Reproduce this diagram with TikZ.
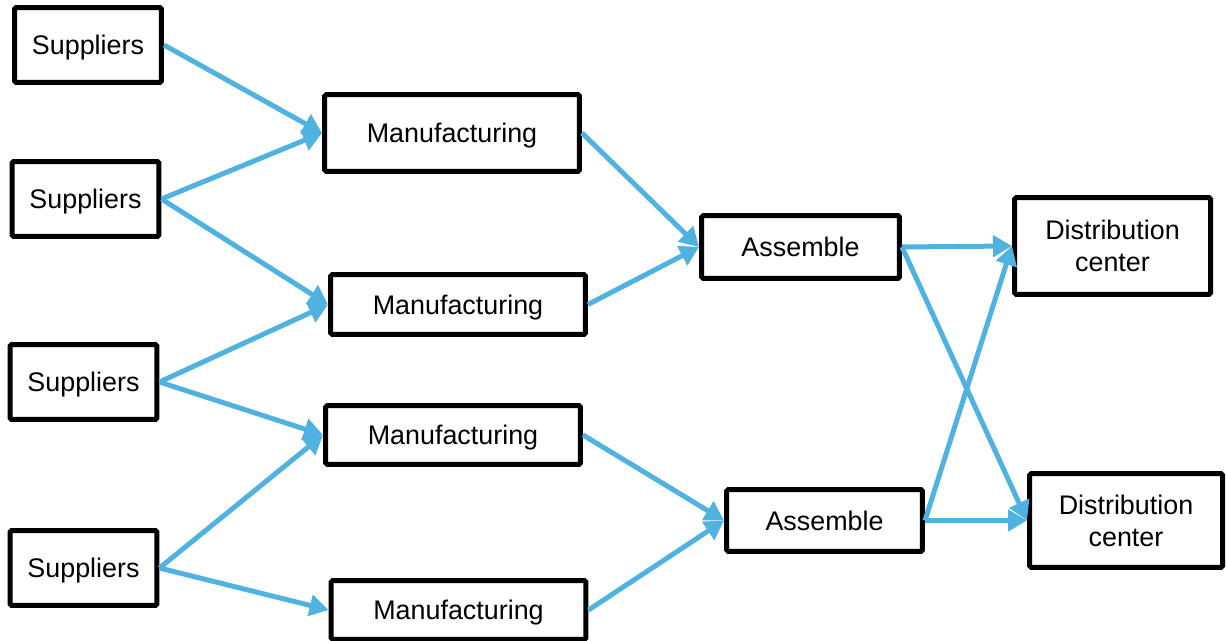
\documentclass[tikz,border=0pt]{standalone}
\usepackage{fontspec}
\setmainfont{Liberation Sans}
\usetikzlibrary{arrows.meta}
\definecolor{flow}{RGB}{80,178,224}
\tikzset{bx/.append style={draw,line width=0.1cm,rounded corners=1pt,inner sep=0pt,align=center,text depth=0pt,font=\fontsize{15.3}{18}\selectfont}}
\tikzset{sp/.append style={bx,minimum width=2.94cm,minimum height=1.5cm}}
\tikzset{ar/.append style={draw=flow,line width=0.1cm,-{Triangle[length=0.38cm,width=0.42cm]}}}

\begin{document}
\begin{tikzpicture}[x=0.02cm,y=-0.02cm]
                \useasboundingbox (0,0) rectangle (1226,641);
                % suppliers
                \node[sp] (s1) at (88,45) {Suppliers};
                \node[sp] (s2) at (85.5,199) {Suppliers};
                \node[sp] (s3) at (83.5,382) {Suppliers};
                \node[sp] (s4) at (83.5,568) {Suppliers};
                % manufacturing
                \node[bx,minimum width=5.1cm,minimum height=1.54cm] (m1) at (452,133) {Manufacturing};
                \node[bx,minimum width=5.1cm,minimum height=1.2cm] (m2) at (458,304.5) {Manufacturing};
                \node[bx,minimum width=5.1cm,minimum height=1.18cm] (m3) at (453,435) {Manufacturing};
                \node[bx,minimum width=5.1cm,minimum height=1.18cm] (m4) at (458.5,610) {Manufacturing};
                % assemble
                \node[bx,minimum width=3.96cm,minimum height=1.26cm] (a1) at (800.5,247) {Assemble};
                \node[bx,minimum width=3.92cm,minimum height=1.24cm] (a2) at (824.5,520.5) {Assemble};
                % distribution
                \node[bx,minimum width=3.92cm,minimum height=1.94cm] (d1) at (1112.5,246) {Distribution\\center};
                \node[bx,minimum width=3.86cm,minimum height=1.88cm] (d2) at (1126,520.5) {Distribution\\center};
                \path (s1.east) edge[ar] (m1.west);
                \path (s2.east) edge[ar] (m1.west);
                \path (s2.east) edge[ar] (m2.west);
                \path (s3.east) edge[ar] (m2.west);
                \path (s3.east) edge[ar] (m3.west);
                \path (s4.east) edge[ar] (m3.west);
                \path (s4.east) edge[ar] (m4.west);
                \path (m1.east) edge[ar] (a1.west);
                \path (m2.east) edge[ar] (a1.west);
                \path (m3.east) edge[ar] (a2.west);
                \path (m4.east) edge[ar] (a2.west);
                \path (a1.east) edge[ar] (d1.west);
                \path (a1.east) edge[ar] (d2.west);
                \path (a2.east) edge[ar] (d2.west);
                \path (a2.east) edge[ar] (d1.west);
            \end{tikzpicture}
\end{document}
